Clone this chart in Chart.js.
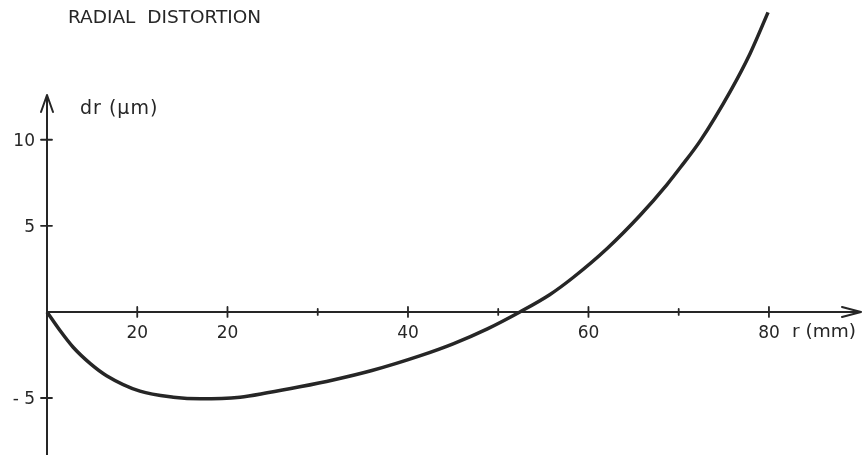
<!DOCTYPE html>
<html>
<head>
<meta charset="utf-8">
<script src="https://cdn.jsdelivr.net/npm/chart.js@4.4.1/dist/chart.umd.min.js"></script>
<style>
  html, body { margin: 0; padding: 0; background: #fff; }
  canvas { display: block; }
</style>
</head>
<body>
<canvas id="myChart" width="863" height="455"></canvas>
<script>
// radius in mm, distortion in micrometres
const radius = [0, 1.4, 2.9, 4.8, 6.6, 10.3, 14, 17, 21.4, 24.4, 28, 31.7, 36, 41.3, 45, 48.8, 52.4, 55.7, 58.3, 62.1, 65.7, 68.7, 70.2, 72.4, 75.7, 77.9, 79.9];
const distortion = [0, -1.05, -2.05, -3.0, -3.7, -4.6, -4.95, -5.05, -4.95, -4.7, -4.35, -3.95, -3.4, -2.55, -1.85, -0.98, 0, 1.0, 2.0, 3.7, 5.6, 7.4, 8.4, 9.95, 12.8, 15.0, 17.4];

const xTickValues = [10, 20, 30, 40, 50, 60, 70, 80];
const xTickLabels = ['20', '20', '', '40', '', '60', '', '80'];  // as printed on the original
const yTickValues = [-5, 5, 10];
const yTickLabels = ['- 5', '5', '10'];

const INK = '#262626';
const FONT = '"DejaVu Sans", sans-serif';

const MY_CHART = document.querySelector('#myChart');

// axes lines with arrows, crossing tick marks, y labels and the loose texts
const sketchAxes = {
  id: 'sketchAxes',
  afterDraw(chart) {
    const ctx = chart.ctx;
    const x = chart.scales.x, y = chart.scales.y;
    const x0 = x.getPixelForValue(0), y0 = y.getPixelForValue(0);
    const top = chart.chartArea.top, right = chart.chartArea.right;
    ctx.save();
    ctx.strokeStyle = INK;
    ctx.lineWidth = 2;
    ctx.lineCap = 'round';
    ctx.lineJoin = 'round';
    ctx.beginPath();
    ctx.moveTo(x0, chart.height); ctx.lineTo(x0, top);
    ctx.moveTo(x0 - 6, top + 17); ctx.lineTo(x0, top); ctx.lineTo(x0 + 6, top + 17);
    ctx.moveTo(x0, y0); ctx.lineTo(right, y0);
    ctx.moveTo(right - 19, y0 - 5); ctx.lineTo(right, y0); ctx.lineTo(right - 19, y0 + 5);
    ctx.stroke();

    ctx.lineWidth = 1.8;
    ctx.beginPath();
    xTickValues.forEach((v, i) => {
      const px = x.getPixelForValue(v);
      const h = xTickLabels[i] ? 5 : 3;
      ctx.moveTo(px, y0 - h); ctx.lineTo(px, y0 + h);
    });
    yTickValues.forEach(v => {
      const py = y.getPixelForValue(v);
      ctx.moveTo(x0 - 6, py); ctx.lineTo(x0 + 5, py);
    });
    ctx.stroke();

    ctx.fillStyle = INK;
    ctx.font = '17px ' + FONT;
    ctx.textAlign = 'right';
    ctx.textBaseline = 'middle';
    yTickValues.forEach((v, i) => {
      ctx.fillText(yTickLabels[i], x0 - 12, y.getPixelForValue(v) + 2);
    });

    ctx.textBaseline = 'alphabetic';
    ctx.textAlign = 'left';
    ctx.font = '18.5px ' + FONT;
    ctx.fillText('RADIAL  DISTORTION', 68, 23);
    ctx.font = '19px ' + FONT;
    ctx.letterSpacing = '1px';
    ctx.fillText('dr (\u03bcm)', 80, 114);
    ctx.letterSpacing = '0px';
    ctx.font = '18.5px ' + FONT;
    ctx.fillText('r (mm)', 792, 337);
    ctx.restore();
  }
};

const data = {
  datasets: [{
    label: 'Radial distortion',
    data: radius.map((r, i) => ({ x: r, y: distortion[i] })),
    borderColor: INK,
    borderWidth: 3.5,
    pointRadius: 0,
    fill: false,
    cubicInterpolationMode: 'monotone',
    clip: false
  }]
};

const CONFIG = {
  type: 'line',
  data: data,
  options: {
    responsive: false,
    animation: false,
    layout: { padding: { left: 47, right: 2, top: 95, bottom: 0 } },
    plugins: { legend: { display: false }, tooltip: { enabled: false } },
    scales: {
      x: {
        type: 'linear',
        position: { y: 0 },
        min: 0,
        max: 90.2,
        afterBuildTicks: scale => { scale.ticks = xTickValues.map(v => ({ value: v })); },
        ticks: {
          autoSkip: false,
          maxRotation: 0,
          padding: 11,
          color: INK,
          font: { family: FONT, size: 17 },
          callback: (val, i) => xTickLabels[i]
        },
        grid: { display: false, drawTicks: false },
        border: { display: false }
      },
      y: {
        type: 'linear',
        position: { x: 0 },
        min: -8.31,
        max: 12.6,
        afterBuildTicks: scale => { scale.ticks = yTickValues.map(v => ({ value: v })); },
        ticks: { display: false },
        grid: { display: false, drawTicks: false },
        border: { display: false }
      }
    }
  },
  plugins: [sketchAxes]
};

const chart = new Chart(MY_CHART, CONFIG);
</script>
</body>
</html>
